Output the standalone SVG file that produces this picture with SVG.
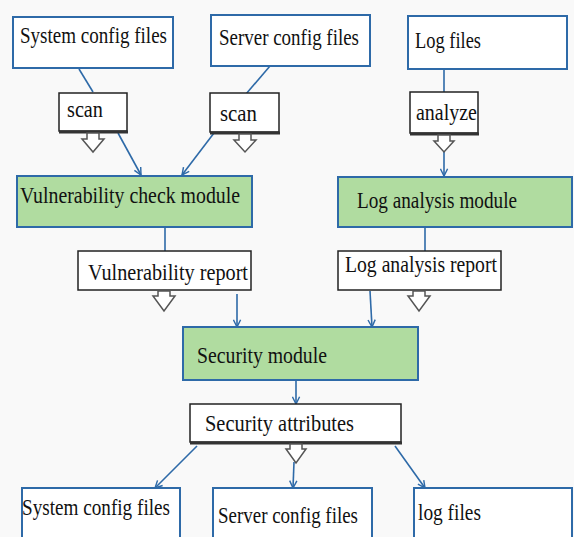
<svg xmlns="http://www.w3.org/2000/svg" width="574" height="537" viewBox="0 0 574 537">
<style>
.box{fill:#ffffff;stroke:#2e6aa8;stroke-width:2}
.mod{fill:#b0dca0;stroke:#2e6aa8;stroke-width:2}
.call{fill:#ffffff;stroke:#222;stroke-width:1.5}
.shadow{fill:none;stroke:#333;stroke-width:3}
.tip{fill:#ffffff;stroke:#555;stroke-width:1.5;stroke-linejoin:miter}
.t{font-family:"Liberation Serif","DejaVu Serif",serif;font-size:23px;fill:#111}
.c{fill:none;stroke:#2e6aa8;stroke-width:1.6}
</style>
<defs>
<marker id="ah" viewBox="0 0 10 10" refX="9" refY="5" markerWidth="9" markerHeight="9" markerUnits="userSpaceOnUse" orient="auto">
<path d="M1,1 L9,5 L1,9" fill="none" stroke="#2e6aa8" stroke-width="1.6"/>
</marker>
</defs>
<rect width="574" height="537" fill="#f9f9f9"/>

<g id="connectors">
<line class="c" x1="79" y1="69" x2="93" y2="92"/>
<line class="c" x1="118" y1="133" x2="141" y2="175" marker-end="url(#ah)"/>
<line class="c" x1="270" y1="66" x2="246" y2="94"/>
<line class="c" x1="214" y1="133" x2="182" y2="175" marker-end="url(#ah)"/>
<line class="c" x1="444" y1="69" x2="444" y2="93"/>
<line class="c" x1="444" y1="150" x2="444" y2="176" marker-end="url(#ah)"/>
<line class="c" x1="165" y1="228" x2="165" y2="254"/>
<line class="c" x1="425" y1="228" x2="425" y2="254"/>
<line class="c" x1="237" y1="294" x2="237" y2="327" marker-end="url(#ah)"/>
<line class="c" x1="370" y1="291" x2="372" y2="327" marker-end="url(#ah)"/>
<line class="c" x1="296" y1="381" x2="296" y2="404" marker-end="url(#ah)"/>
<line class="c" x1="197" y1="446" x2="155" y2="488" marker-end="url(#ah)"/>
<line class="c" x1="294" y1="462" x2="293" y2="488" marker-end="url(#ah)"/>
<line class="c" x1="395" y1="446" x2="425" y2="488" marker-end="url(#ah)"/>
</g>

<g id="sys_top">
<rect class="box" x="13" y="17" width="160" height="51"/>
<text class="t" x="20" y="43" textLength="147" lengthAdjust="spacingAndGlyphs">System config files</text>
</g>
<g id="srv_top">
<rect class="box" x="211" y="15" width="159" height="51"/>
<text class="t" x="219" y="45" textLength="140" lengthAdjust="spacingAndGlyphs">Server config files</text>
</g>
<g id="log_top">
<rect class="box" x="408" y="16" width="159" height="53"/>
<text class="t" x="415" y="48" textLength="66" lengthAdjust="spacingAndGlyphs">Log files</text>
</g>

<g id="scan1">
<rect class="call" x="59" y="93" width="68" height="38"/>
<line class="shadow" x1="59" y1="132" x2="128" y2="132"/>
<polygon class="tip" points="87,133 99,133 99,139 104,139 93,152 82,139 87,139"/>
<text class="t" x="67" y="117" textLength="36" lengthAdjust="spacingAndGlyphs">scan</text>
</g>
<g id="scan2">
<rect class="call" x="210" y="93" width="69" height="39"/>
<line class="shadow" x1="210" y1="133" x2="280" y2="133"/>
<polygon class="tip" points="239,134 251,134 251,140 256,140 245,152 234,140 239,140"/>
<text class="t" x="220" y="121" textLength="37" lengthAdjust="spacingAndGlyphs">scan</text>
</g>
<g id="analyze">
<rect class="call" x="410" y="92" width="68" height="41"/>
<line class="shadow" x1="410" y1="134" x2="479" y2="134"/>
<polygon class="tip" points="438,135 450,135 450,141 454,141 444,152 434,141 438,141"/>
<text class="t" x="416" y="120" textLength="61" lengthAdjust="spacingAndGlyphs">analyze</text>
</g>

<g id="vuln_module">
<rect class="mod" x="17" y="176" width="235" height="51"/>
<text class="t" x="20" y="203" textLength="220" lengthAdjust="spacingAndGlyphs">Vulnerability check module</text>
</g>
<g id="log_module">
<rect class="mod" x="338" y="177" width="234" height="50"/>
<text class="t" x="357" y="208" textLength="160" lengthAdjust="spacingAndGlyphs">Log analysis module</text>
</g>

<g id="vuln_report">
<rect class="call" x="78" y="251" width="173" height="39"/>
<polygon class="tip" points="158,291 170,291 170,296 175,296 164,311 153,296 158,296"/>
<text class="t" x="88" y="280" textLength="160" lengthAdjust="spacingAndGlyphs">Vulnerability report</text>
</g>
<g id="log_report">
<rect class="call" x="338" y="251" width="163" height="39"/>
<polygon class="tip" points="413,291 425,291 425,296 430,296 419,311 408,296 413,296"/>
<text class="t" x="345" y="272" textLength="152" lengthAdjust="spacingAndGlyphs">Log analysis report</text>
</g>

<g id="security_module">
<rect class="mod" x="183" y="327" width="235" height="53"/>
<text class="t" x="197" y="363" textLength="130" lengthAdjust="spacingAndGlyphs">Security module</text>
</g>

<g id="security_attributes">
<rect class="call" x="190" y="404" width="211" height="38"/>
<line class="shadow" x1="190" y1="443" x2="402" y2="443"/>
<polygon class="tip" points="290,444 302,444 302,449 306,449 296,463 286,449 290,449"/>
<text class="t" x="205" y="431" textLength="149" lengthAdjust="spacingAndGlyphs">Security attributes</text>
</g>

<g id="sys_bottom">
<rect class="box" x="22" y="488" width="158" height="60"/>
<text class="t" x="22" y="515" textLength="148" lengthAdjust="spacingAndGlyphs">System config files</text>
</g>
<g id="srv_bottom">
<rect class="box" x="213" y="488" width="159" height="60"/>
<text class="t" x="218" y="523" textLength="140" lengthAdjust="spacingAndGlyphs">Server config files</text>
</g>
<g id="log_bottom">
<rect class="box" x="414" y="488" width="158" height="60"/>
<text class="t" x="418" y="520" textLength="63" lengthAdjust="spacingAndGlyphs">log files</text>
</g>
</svg>
